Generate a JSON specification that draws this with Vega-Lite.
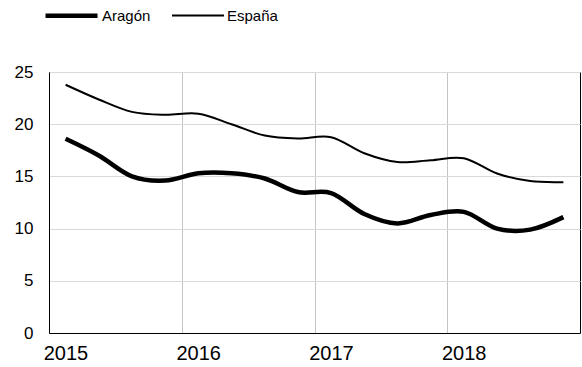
{
  "$schema": "https://vega.github.io/schema/vega-lite/v6.json",
  "autosize": {"type": "none"},
  "padding": {"left": 49, "top": 72, "right": 2, "bottom": 34},
  "width": 531,
  "height": 261,
  "background": "white",
  "config": {
    "font": "Liberation Sans",
    "view": {"stroke": "black", "strokeWidth": 1}
  },
  "data": {
    "values": [
      {"t": 2015.125, "serie": "Aragón", "tasa": 18.6},
      {"t": 2015.375, "serie": "Aragón", "tasa": 17.0},
      {"t": 2015.625, "serie": "Aragón", "tasa": 15.0},
      {"t": 2015.875, "serie": "Aragón", "tasa": 14.6},
      {"t": 2016.125, "serie": "Aragón", "tasa": 15.3},
      {"t": 2016.375, "serie": "Aragón", "tasa": 15.3},
      {"t": 2016.625, "serie": "Aragón", "tasa": 14.8},
      {"t": 2016.875, "serie": "Aragón", "tasa": 13.5},
      {"t": 2017.125, "serie": "Aragón", "tasa": 13.4},
      {"t": 2017.375, "serie": "Aragón", "tasa": 11.4},
      {"t": 2017.625, "serie": "Aragón", "tasa": 10.5},
      {"t": 2017.875, "serie": "Aragón", "tasa": 11.3},
      {"t": 2018.125, "serie": "Aragón", "tasa": 11.6},
      {"t": 2018.375, "serie": "Aragón", "tasa": 10.0},
      {"t": 2018.625, "serie": "Aragón", "tasa": 9.9},
      {"t": 2018.875, "serie": "Aragón", "tasa": 11.1},
      {"t": 2015.125, "serie": "España", "tasa": 23.78},
      {"t": 2015.375, "serie": "España", "tasa": 22.37},
      {"t": 2015.625, "serie": "España", "tasa": 21.18},
      {"t": 2015.875, "serie": "España", "tasa": 20.9},
      {"t": 2016.125, "serie": "España", "tasa": 21.0},
      {"t": 2016.375, "serie": "España", "tasa": 20.0},
      {"t": 2016.625, "serie": "España", "tasa": 18.91},
      {"t": 2016.875, "serie": "España", "tasa": 18.63},
      {"t": 2017.125, "serie": "España", "tasa": 18.75},
      {"t": 2017.375, "serie": "España", "tasa": 17.22},
      {"t": 2017.625, "serie": "España", "tasa": 16.38},
      {"t": 2017.875, "serie": "España", "tasa": 16.55},
      {"t": 2018.125, "serie": "España", "tasa": 16.74},
      {"t": 2018.375, "serie": "España", "tasa": 15.28},
      {"t": 2018.625, "serie": "España", "tasa": 14.55},
      {"t": 2018.875, "serie": "España", "tasa": 14.45}
    ]
  },
  "mark": {"type": "line", "interpolate": "cardinal", "color": "black", "strokeCap": "butt"},
  "encoding": {
    "x": {
      "field": "t", "type": "quantitative",
      "scale": {"domain": [2015, 2019], "nice": false, "zero": false},
      "axis": {
        "title": null, "values": [2015, 2016, 2017, 2018], "format": "d",
        "grid": true, "gridColor": "#c4c4c4", "gridWidth": 1,
        "ticks": false, "domainColor": "black", "domainWidth": 1,
        "labelFontSize": 20, "labelColor": "black", "labelPadding": 10,
        "labelOffset": 16.5, "labelFlush": false
      }
    },
    "y": {
      "field": "tasa", "type": "quantitative",
      "scale": {"domain": [0, 25], "nice": false},
      "axis": {
        "title": null, "values": [0, 5, 10, 15, 20, 25],
        "grid": true, "gridColor": "#d9d9d9", "gridWidth": 1,
        "ticks": false, "domainColor": "black", "domainWidth": 1,
        "labelFontSize": 17, "labelColor": "black", "labelPadding": 16
      }
    },
    "strokeWidth": {
      "field": "serie", "type": "nominal",
      "scale": {"domain": ["Aragón", "España"], "range": [4.5, 2]},
      "legend": {
        "title": null, "orient": "none", "direction": "horizontal",
        "legendX": -6, "legendY": -85, "padding": 0,
        "symbolType": "stroke", "symbolSize": 2704, "symbolStrokeColor": "black",
        "labelFontSize": 15, "labelColor": "black", "labelOffset": 2,
        "columnPadding": 17
      }
    }
  }
}
